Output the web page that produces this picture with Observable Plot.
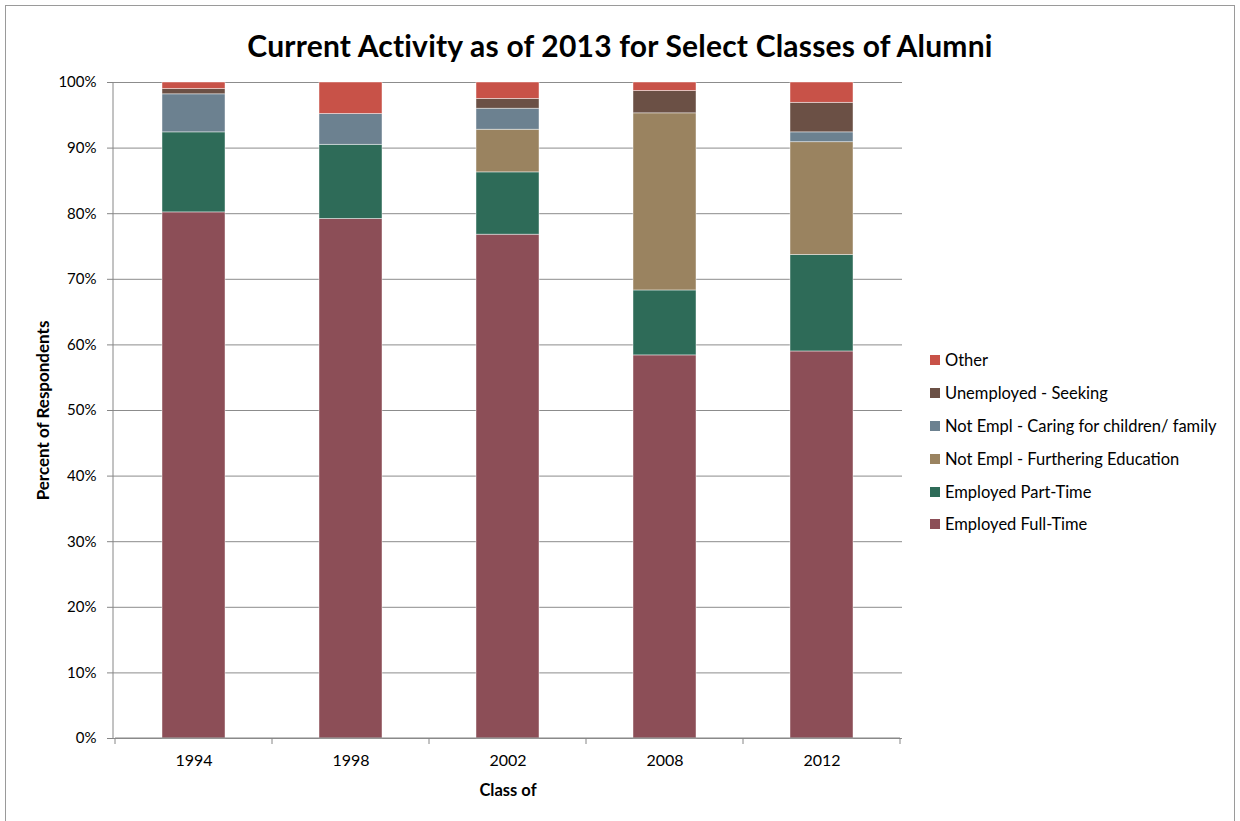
<!DOCTYPE html>
<html><head><meta charset="utf-8">
<script src="https://cdn.jsdelivr.net/npm/d3@7"></script>
<script src="https://cdn.jsdelivr.net/npm/@observablehq/plot@0.6"></script>
<style>
html,body{margin:0;padding:0;background:#fff;}
body{font-family:Lato,"Open Sans",sans-serif;width:1240px;height:821px;position:relative;overflow:hidden}
#frame{position:absolute;left:5px;top:5px;width:1230px;height:840px;border:1px solid #9a9a9a;box-sizing:border-box;pointer-events:none}
#title{height:42px;padding-top:28px;line-height:34px;text-align:center;font-weight:bold;font-size:30px;color:#000;letter-spacing:0.2px}
#legend{position:absolute;left:930px;top:344px;font-size:16.5px;color:#000}
.row{height:32.8px;display:flex;align-items:center}
.sw{width:10px;height:10px;margin-right:5px;flex:none}
</style></head>
<body>
<div id="frame"></div>
<div id="title">Current Activity as of 2013 for Select Classes of Alumni</div>
<div id="chart"></div>
<div id="legend"></div>
<script>
const classes = ["1994", "1998", "2002", "2008", "2012"];
const categories = ["Employed Full-Time", "Employed Part-Time", "Not Empl - Furthering Education", "Not Empl - Caring for children/ family", "Unemployed - Seeking", "Other"];
const colors = ["#8c4e57", "#2e6b58", "#9a8360", "#6c8190", "#6b5045", "#c85248"];
const fullTime   = [80.2, 79.2, 76.8, 58.4, 59.0];
const partTime   = [12.2, 11.3, 9.5, 9.9, 14.7];
const furtherEdu = [0, 0, 6.5, 27.0, 17.2];
const caring     = [5.8, 4.7, 3.2, 0, 1.5];
const unemployed = [0.8, 0, 1.5, 3.4, 4.5];
const other      = [1.0, 4.8, 2.5, 1.3, 3.1];
const yTicks = [0, 10, 20, 30, 40, 50, 60, 70, 80, 90, 100];

const series = [fullTime, partTime, furtherEdu, caring, unemployed, other];
const data = [];
series.forEach((vals, i) => vals.forEach((v, j) => {
  data.push({cls: classes[j], cat: categories[i], value: v});
}));

function boundaryTicks(index, scales, values, dims) {
  const x = scales.x;
  const step = x.step(), bw = x.bandwidth();
  const half = (step - bw) / 2;
  const pos = classes.map(c => x(c) - half);
  pos.push(x(classes[classes.length - 1]) + bw + half);
  const y0 = dims.height - dims.marginBottom;
  const g = d3.create("svg:g").attr("stroke", "#868686");
  for (const p of pos) g.append("line").attr("x1", p).attr("x2", p).attr("y1", y0).attr("y2", y0 + 6);
  g.append("line").attr("x1", pos[0]).attr("x2", pos[pos.length - 1]).attr("y1", y0).attr("y2", y0);
  g.append("line").attr("x1", dims.marginLeft).attr("x2", dims.marginLeft).attr("y1", dims.marginTop).attr("y2", y0);
  return g.node();
}

const chart = Plot.plot({
  width: 1240,
  height: 751,
  marginTop: 12,
  marginBottom: 83,
  marginLeft: 113,
  marginRight: 338,
  style: {fontFamily: "Lato, 'Open Sans', sans-serif", fontSize: "15px", color: "#000", background: "#fff"},
  x: {domain: classes, paddingInner: 0.6, paddingOuter: 0.3, label: null},
  y: {domain: [0, 100], label: null},
  color: {domain: categories, range: colors},
  marks: [
    Plot.ruleY(yTicks, {stroke: "#8c8c8c", strokeWidth: 1}),
    Plot.barY(data.filter(d => d.value > 0), Plot.stackY({
      x: "cls", y: "value", fill: "cat", order: categories,
      stroke: "#ffffff", strokeOpacity: 0.55, strokeWidth: 0.8
    })),
    Plot.axisY({ticks: yTicks, tickFormat: d => d + "%", tickSize: 6, tickPadding: 11, stroke: "#868686", fontSize: 15}),
    Plot.axisX({tickSize: 0, tickPadding: 16, fontSize: 16}),
    boundaryTicks,
    Plot.text(["Class of"], {text: d => d, frameAnchor: "bottom", dy: 52, lineAnchor: "middle", fontWeight: "bold", fontSize: 16.5}),
    Plot.text(["Percent of Respondents"], {text: d => d, frameAnchor: "left", textAnchor: "middle", dx: -70, rotate: -90, fontWeight: "bold", fontSize: 17})
  ]
});
document.getElementById("chart").appendChild(chart);

const legend = d3.select("#legend");
categories.slice().reverse().forEach(c => {
  const row = legend.append("div").attr("class", "row");
  row.append("div").attr("class", "sw").style("background", colors[categories.indexOf(c)]);
  row.append("span").text(c);
});
</script>
</body></html>
